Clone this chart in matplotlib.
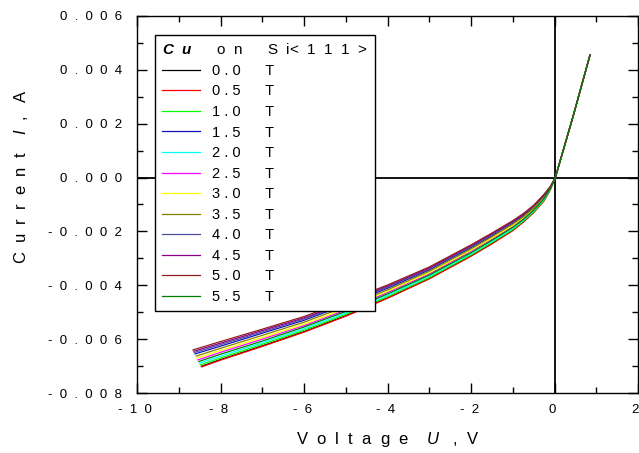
import matplotlib
matplotlib.use('Agg')
import matplotlib.pyplot as plt

plt.rcParams.update({'font.family': 'Liberation Sans', 'font.size': 9.5,
                     'mathtext.fontset': 'custom',
                     'mathtext.it': 'Liberation Sans:italic',
                     'mathtext.bfit': 'Liberation Sans:italic:bold',
                     'mathtext.rm': 'Liberation Sans'})

# Shared voltage points (V); the first point of each curve is its own start voltage
volt_grid = [-8, -7, -6, -5, -4, -3, -2, -1.5, -1, -0.75, -0.5, -0.25, -0.1,
             0.02, 0.45, 0.85]
fwd = [0.0, 2.30, 4.55]  # mA, forward branch identical for all fields

fields = ['0.0', '0.5', '1.0', '1.5', '2.0', '2.5', '3.0', '3.5', '4.0', '4.5', '5.0', '5.5']
colors = ['#000000', '#ff0000', '#00ff00', '#1010c0', '#00ffff', '#ff00ff',
          '#ffff00', '#808000', '#5050a0', '#8b008b', '#902020', '#008000']

start_u = {'0.0': -8.46, '0.5': -8.45, '1.0': -8.48, '1.5': -8.61, '2.0': -8.50, '2.5': -8.54,
           '3.0': -8.56, '3.5': -8.58, '4.0': -8.63, '4.5': -8.64, '5.0': -8.66, '5.5': -8.52}
start_i = {'0.0': -7.01, '0.5': -7.03, '1.0': -6.95, '1.5': -6.55, '2.0': -6.89, '2.5': -6.77,
           '3.0': -6.70, '3.5': -6.63, '4.0': -6.50, '4.5': -6.45, '5.0': -6.40, '5.5': -6.83}

# reverse branch current (mA) at volt_grid[:13]
rev_i = {
    '0.0': [-6.76, -6.25, -5.72, -5.13, -4.47, -3.75, -2.91, -2.45, -1.96, -1.65, -1.29, -0.85, -0.45],
    '0.5': [-6.78, -6.27, -5.74, -5.15, -4.48, -3.76, -2.92, -2.46, -1.97, -1.66, -1.30, -0.86, -0.45],
    '1.0': [-6.70, -6.19, -5.67, -5.08, -4.42, -3.71, -2.87, -2.41, -1.93, -1.62, -1.27, -0.83, -0.44],
    '1.5': [-6.26, -5.78, -5.30, -4.72, -4.11, -3.43, -2.60, -2.16, -1.69, -1.42, -1.09, -0.68, -0.36],
    '2.0': [-6.63, -6.13, -5.61, -5.03, -4.37, -3.66, -2.83, -2.37, -1.89, -1.59, -1.24, -0.81, -0.42],
    '2.5': [-6.49, -6.00, -5.50, -4.92, -4.27, -3.58, -2.74, -2.29, -1.82, -1.53, -1.19, -0.76, -0.40],
    '3.0': [-6.42, -5.94, -5.44, -4.86, -4.22, -3.53, -2.70, -2.25, -1.78, -1.49, -1.16, -0.74, -0.39],
    '3.5': [-6.34, -5.86, -5.37, -4.79, -4.17, -3.48, -2.65, -2.20, -1.73, -1.46, -1.13, -0.71, -0.37],
    '4.0': [-6.20, -5.73, -5.25, -4.68, -4.07, -3.39, -2.57, -2.12, -1.66, -1.39, -1.07, -0.66, -0.35],
    '4.5': [-6.15, -5.68, -5.21, -4.64, -4.03, -3.36, -2.53, -2.09, -1.63, -1.37, -1.05, -0.64, -0.34],
    '5.0': [-6.09, -5.63, -5.16, -4.59, -3.99, -3.32, -2.50, -2.06, -1.60, -1.34, -1.03, -0.62, -0.33],
    '5.5': [-6.56, -6.07, -5.55, -4.97, -4.32, -3.62, -2.79, -2.33, -1.85, -1.56, -1.21, -0.78, -0.41],
}

xticks = [-10, -8, -6, -4, -2, 0, 2]
yticks = [-0.008, -0.006, -0.004, -0.002, 0.0, 0.002, 0.004, 0.006]


def spaced(s, sep='  '):
    return sep.join(s)


fig = plt.figure(figsize=(6.39, 4.53), dpi=100)
ax = fig.add_axes([137/639, 1 - 393/453, 501/639, 377/453])

for f, c in zip(fields, colors):
    u = [start_u[f]] + volt_grid
    i = [start_i[f]] + rev_i[f] + fwd
    ax.plot(u, [v / 1000.0 for v in i], '-', color=c, lw=0.9,
            label=spaced(f, ' ') + '      T')

ax.axhline(0, color='k', lw=1.3, zorder=1)
ax.axvline(0, color='k', lw=1.3, zorder=1)

ax.set_xlim(-10, 2)
ax.set_ylim(-0.008, 0.006)
ax.set_xticks(xticks)
ax.set_xticklabels([spaced('%d' % t) + ' ' for t in xticks])
ax.set_yticks(yticks)
ax.set_yticklabels([spaced('%.3f' % t) for t in yticks])
ax.set_xticks([-9, -7, -5, -3, -1, 1], minor=True)
ax.set_yticks([-0.007, -0.005, -0.003, -0.001, 0.001, 0.003, 0.005], minor=True)
ax.tick_params(which='both', direction='in', top=True, right=True, labelsize=9.5, width=1)
ax.tick_params(which='major', length=7)
ax.tick_params(which='minor', length=4)
ax.tick_params(axis='x', which='major', pad=8)
ax.tick_params(axis='y', which='major', pad=11)
for sp in ax.spines.values():
    sp.set_linewidth(1.0)

ax.set_xlabel(r'V  o  l  t  a  g  e    $\it{U}$   ,  V', fontsize=12, labelpad=10)
ax.set_ylabel(r'C  u  r  r  e  n  t    $\it{I}$  ,   A', fontsize=12)
ax.yaxis.set_label_coords((30 - 137) / 501, (393 - 177) / 377)

leg = ax.legend(loc='upper left', bbox_to_anchor=((155-137)/501, (393-35)/377),
                title=r'$\mathbfit{C\ \ u}$      o  n      S  i<  1  1  1  >', title_fontsize=11,
                fontsize=10.5, alignment='left', fancybox=False, edgecolor='k',
                framealpha=1, handlelength=2.6, handletextpad=0.8, labelspacing=0.45,
                borderaxespad=0, borderpad=0.5)
leg.get_frame().set_linewidth(1.0)

plt.savefig('out.png', dpi=100)
